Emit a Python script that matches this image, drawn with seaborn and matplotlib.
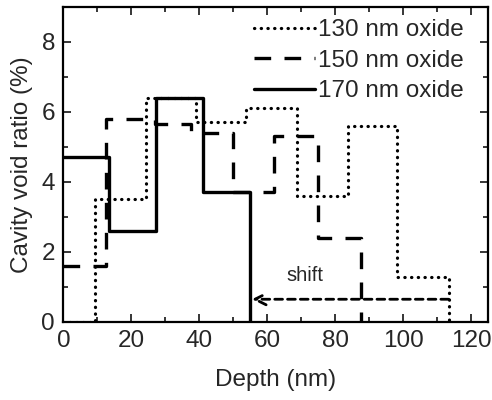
import numpy as np
import pandas as pd
import matplotlib
matplotlib.use("Agg")
import matplotlib.pyplot as plt
import seaborn as sns
from matplotlib.ticker import MultipleLocator

# ---- data ----
edges_130 = [0, 9.3, 24.3, 38.9, 53.8, 68.7, 83.9, 98.1, 113.4]
vals_130 = [0, 3.5, 6.4, 5.7, 6.1, 3.6, 5.6, 1.3]

edges_150 = [0, 12.5, 27.0, 37.5, 50.0, 62.0, 75.0, 87.5]
vals_150 = [1.6, 5.8, 5.65, 5.4, 3.7, 5.3, 2.4]

edges_170 = [0, 13.5, 27.4, 41.0, 55.0]
vals_170 = [4.7, 2.6, 6.4, 3.7]

labels = ["130 nm oxide", "150 nm oxide", "170 nm oxide"]
shift_start = 113.4
shift_end = 55.5
shift_y = 0.65


def step_path(edges, vals):
    xs, ys = [], []
    for i, v in enumerate(vals):
        xs += [edges[i], edges[i + 1]]
        ys += [v, v]
    xs.append(edges[-1])
    ys.append(0)
    return xs, ys


sns.set_style("ticks")
plt.rcParams["font.family"] = ["Liberation Sans", "DejaVu Sans"]

fig = plt.figure(figsize=(4.92, 4.0), dpi=100)
ax = fig.add_axes([0.1287, 0.195, 0.992 - 0.1287, 0.9825 - 0.195])

styles = [
    dict(linestyle=(0, (0.1, 2.0)), dash_capstyle="round", linewidth=2.3),
    dict(linestyle=(0, (5.0, 4.0)), linewidth=2.4),
    dict(linestyle="-", linewidth=2.4),
]
series = [(edges_130, vals_130), (edges_150, vals_150), (edges_170, vals_170)]
for (e, v), lab, st in zip(series, labels, styles):
    xs, ys = step_path(e, v)
    df = pd.DataFrame({"x": xs, "y": ys})
    sns.lineplot(data=df, x="x", y="y", estimator=None, sort=False, color="black",
                 label=lab, ax=ax, **st)

# shift arrow
ax.annotate("", xy=(shift_end, shift_y), xytext=(shift_start, shift_y),
            arrowprops=dict(arrowstyle="->", color="black", lw=2.0,
                            linestyle=(0, (2.8, 1.8)), mutation_scale=20,
                            shrinkA=0, shrinkB=0))
ax.text(71, 1.34, "shift", fontsize=14.5, ha="center", va="center")

ax.set_xlim(0, 125)
ax.set_ylim(0, 9)
ax.xaxis.set_major_locator(MultipleLocator(20))
ax.xaxis.set_minor_locator(MultipleLocator(10))
ax.yaxis.set_major_locator(MultipleLocator(2))
ax.yaxis.set_minor_locator(MultipleLocator(1))
ax.tick_params(which="both", direction="in", top=True, right=True, width=1.3)
ax.tick_params(which="major", length=6, labelsize=17.5)
ax.tick_params(axis="x", which="major", pad=6)
ax.tick_params(axis="y", which="major", pad=6)
ax.tick_params(which="minor", length=3.5)
for s in ax.spines.values():
    s.set_linewidth(1.6)
    s.set_color("black")

ax.set_xlabel("Depth (nm)", fontsize=17.5, labelpad=12)
ax.set_ylabel("Cavity void ratio (%)", fontsize=17.5, labelpad=6)

leg = ax.legend(loc="upper left", bbox_to_anchor=(0.449, 0.961), frameon=False,
                fontsize=17.5, handlelength=2.5, handletextpad=0.15,
                labelspacing=0.35, borderpad=0, borderaxespad=0)

fig.savefig("out.png", dpi=100)
